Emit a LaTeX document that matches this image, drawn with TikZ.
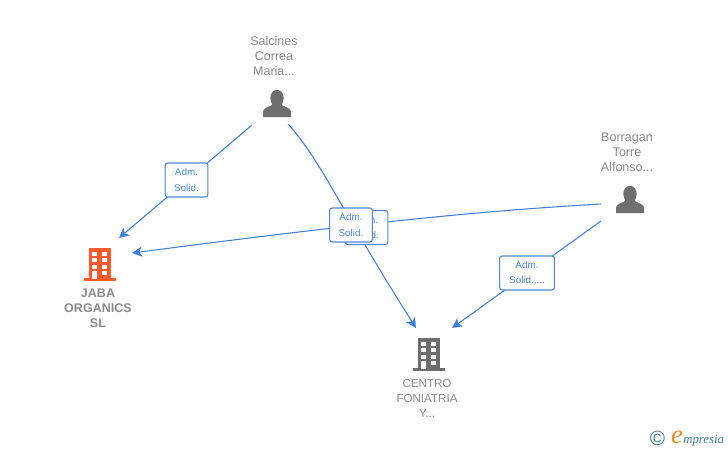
\documentclass[tikz,border=0pt]{standalone}
\usepackage{fontspec}
\setmainfont{Liberation Sans}
\newfontfamily\logofont{Liberation Serif}
\usetikzlibrary{arrows.meta}
\definecolor{edgeblue}{HTML}{3F80DF}
\definecolor{labelblue}{HTML}{4A88E0}
\definecolor{icongray}{HTML}{6E6E6E}
\definecolor{textgray}{HTML}{8A8A8A}
\definecolor{iconorange}{HTML}{FF5A2B}
\definecolor{logoblue}{HTML}{3D7F96}
\definecolor{logoorange}{HTML}{F08A1D}
\tikzset{
  edge/.style={draw=edgeblue,line width=0.8pt},
  arrowedge/.style={edge,-{Stealth[length=7.5pt,width=7.5pt,inset=2pt]}},
  tag/.style={draw=labelblue,line width=0.8pt,fill=white,rounded corners=1.8pt,
    text=labelblue,font=\fontsize{7.4}{11.5}\selectfont,align=center,inner sep=0pt},
  person label/.style={text=textgray,font=\fontsize{9.4}{11.25}\selectfont,align=center,inner sep=0pt},
  firm label/.style={person label,font=\fontsize{8.7}{11.25}\selectfont},
  pics/building/.style={code={
    \fill[#1] (-11,-16) rectangle (11,15);
    \fill[#1] (-16,14) rectangle (16,17);
    \foreach \wy in {-12,-6,1}{
      \fill[white] (-8,\wy) rectangle (-3,{\wy+4.5});
      \fill[white] (2,\wy) rectangle (7,{\wy+4.5});
    }
    \fill[white] (-8,7) rectangle (-3,15);
    \fill[white] (2,7) rectangle (7,11.5);
  }},
  pics/person/.style={code={
    \fill[icongray] (-14,13.5) -- (-14,8.5) .. controls (-14,4.5) and (-9,4) .. (-5,1.5)
      .. controls (-5,0) and (-5.5,-1) .. (-6,-2.5)
      .. controls (-7.5,-5) and (-7,-13.5) .. (0,-13.5)
      .. controls (7,-13.5) and (7.5,-5) .. (6,-2.5)
      .. controls (5.5,-1) and (5,0) .. (5,1.5)
      .. controls (9,4) and (14,4.5) .. (14,8.5) -- (14,13.5) -- cycle;
  }}
}
\begin{document}
\begin{tikzpicture}[x=0.75pt,y=-0.75pt]
\useasboundingbox (0,0) rectangle (728,450);
% anchors of the connectors
\coordinate (s1) at (252,125);
\coordinate (s2) at (288,124);
\coordinate (b1) at (601,204);
\coordinate (b2) at (601,221);
\coordinate (jabaA) at (119,238);
\coordinate (jabaB) at (132,253);
\coordinate (centroA) at (416,328);
\coordinate (centroB) at (452,328);
% icons
\pic at (100,263.5) {building={iconorange}};
\pic at (429,353.5) {building={icongray}};
\pic at (277,103.5) {person};
\pic at (630,199.5) {person};
% texts
\node[person label] (salcines) at (274,56) {Salcines\\Correa\\Maria...};
\node[person label] (borragan) at (627,152) {Borragan\\Torre\\Alfonso...};
\node[firm label,font=\fontsize{9.4}{11.25}\selectfont\bfseries] (jaba) at (98,308) {JABA\\ORGANICS\\SL};
\node[firm label] (centro) at (427,398) {CENTRO\\FONIATRIA\\Y...};
% connectors
\draw[arrowedge] (s1) -- (jabaA);
\draw[arrowedge] (s2) .. controls (322,162) and (338,205) .. (centroA);
\draw[arrowedge] (b1) .. controls (480,211) and (370,222) .. (jabaB);
\draw[arrowedge] (b2) -- (centroB);
% labels on the connectors
\node[tag,minimum width=32pt,minimum height=25.5pt] (t1) at (186.5,180) {Adm.\\Solid.};
\node[tag,minimum width=32pt,minimum height=25.5pt] (t2) at (366.5,227.5) {Adm.\\Solid.};
\node[tag,minimum width=32pt,minimum height=25.5pt] (t3) at (351,225) {Adm.\\Solid.};
\node[tag,minimum width=41pt,minimum height=25.5pt] (t4) at (527,273) {Adm.\\Solid.,...};
% logo
\node[inner sep=0pt,text=logoblue,font=\fontsize{15.5}{16}\selectfont] (copy) at (657.5,438.5) {\symbol{"00A9}};
\node[inner sep=0pt,text=logoorange,font=\logofont\itshape\fontsize{20}{20}\selectfont] (loge) at (677,437) {e};
\node[inner sep=0pt,anchor=west,text=logoblue,font=\logofont\itshape\fontsize{9.6}{10}\selectfont] (logtext) at (683,441) {mpresia};
\end{tikzpicture}
\end{document}
